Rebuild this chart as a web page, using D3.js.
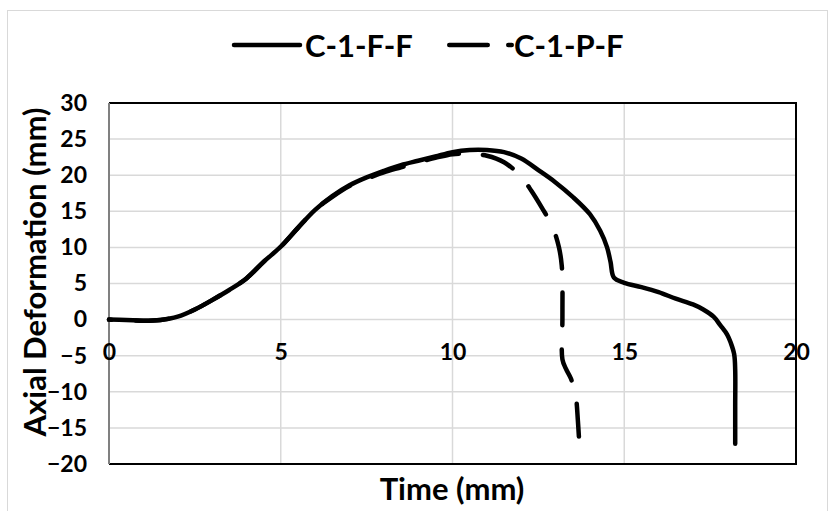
<!DOCTYPE html>
<html lang="en">
<head>
<meta charset="UTF-8">
<title>Axial Deformation vs Time</title>
<script src="https://d3js.org/d3.v7.min.js"></script>
<style>
    body { margin: 0; background: #fff; }
    svg { display: block; }
    text { font-family: Lato, "Open Sans", sans-serif; font-weight: bold; fill: #000; }
</style>
</head>
<body>
<svg width="835" height="511"></svg>
<script>
// series: [time, deformation]
const seriesNames = ["C-1-F-F", "C-1-P-F"];
const fixedFixed = [
    [0, 0], [0.5, -0.05], [1, -0.15], [1.5, -0.05], [2, 0.4], [2.5, 1.4], [3, 2.7], [3.5, 4.1],
    [4, 5.7], [4.5, 8.0], [5, 10.1], [5.5, 12.7], [6, 15.2], [6.5, 17.1], [7, 18.6], [7.5, 19.7],
    [8, 20.6], [8.5, 21.4], [9, 22.0], [9.5, 22.6], [10, 23.2], [10.5, 23.5], [11, 23.5],
    [11.5, 23.2], [12, 22.3], [12.5, 20.7], [13, 19.0], [13.5, 17.0], [14, 14.6], [14.3, 12.3],
    [14.5, 10.0], [14.6, 8.0], [14.7, 5.8], [15, 5.1], [15.5, 4.5], [16, 3.8], [16.5, 2.9],
    [17, 2.1], [17.3, 1.4], [17.6, 0.4], [17.8, -0.8], [18, -2.1], [18.1, -3.2], [18.2, -4.8],
    [18.23, -7], [18.23, -12], [18.23, -17.2]
];
const pinnedFixed = [
    [0, 0], [0.5, -0.05], [1, -0.15], [1.5, -0.05], [2, 0.4], [2.5, 1.4], [3, 2.7], [3.5, 4.1],
    [4, 5.7], [4.5, 8.0], [5, 10.1], [5.5, 12.7], [6, 15.2], [6.5, 17.0], [7, 18.5], [7.5, 19.5],
    [8, 20.4], [8.5, 21.1], [9, 21.8], [9.5, 22.4], [10, 22.9], [10.5, 22.95], [11, 22.7],
    [11.5, 21.8], [12, 19.8], [12.3, 17.8], [12.6, 15.5], [12.9, 13.0], [13.1, 10.0],
    [13.18, 7.5], [13.2, 5], [13.2, 0], [13.2, -5.5], [13.3, -6.8], [13.45, -8.2],
    [13.55, -10], [13.6, -11], [13.65, -14], [13.68, -16.2]
];
const xTicks = [0, 5, 10, 15, 20];
const yTicks = [-20, -15, -10, -5, 0, 5, 10, 15, 20, 25, 30];

const svg = d3.select("svg");

// outer chart frame
svg.append("rect")
    .attr("x", 7.5).attr("y", 10.5)
    .attr("width", 820).attr("height", 510)
    .attr("fill", "none").attr("stroke", "#d9d9d9").attr("stroke-width", 1);

const x = d3.scaleLinear().domain([0, 20]).range([109, 796]);
const y = d3.scaleLinear().domain([-20, 30]).range([464, 103]);

// gridlines
const grid = svg.append("g").attr("stroke", "#d9d9d9").attr("stroke-width", 1.5);
grid.selectAll("line.h")
    .data(yTicks.filter(d => d > -20 && d < 30))
    .join("line")
    .attr("x1", x(0)).attr("x2", x(20))
    .attr("y1", d => y(d)).attr("y2", d => y(d));
grid.selectAll("line.v")
    .data(xTicks.filter(d => d > 0 && d < 20))
    .join("line")
    .attr("y1", y(30)).attr("y2", y(-20))
    .attr("x1", d => x(d)).attr("x2", d => x(d));

// frame of the plot area
svg.append("path")
    .attr("d", `M${x(0)},${y(30)}H${x(20)}V${y(-20)}H${x(0)}`)
    .attr("stroke", "#000").attr("stroke-width", 2).attr("fill", "none");
svg.append("line")
    .attr("x1", x(0)).attr("x2", x(0))
    .attr("y1", y(30)).attr("y2", y(-20))
    .attr("stroke", "#808080").attr("stroke-width", 2);

// y axis labels
const yAxis = d3.axisLeft(y).tickValues(yTicks).tickSize(0).tickPadding(0);
svg.append("g")
    .attr("transform", "translate(87,0)")
    .call(yAxis)
    .call(g => g.select(".domain").remove())
    .selectAll("text")
    .attr("font-family", "Lato, sans-serif")
    .attr("font-size", 23)
    .attr("font-weight", "bold")
    .attr("fill", "#000");

// x axis labels sit below the zero line
const xAxis = d3.axisBottom(x).tickValues(xTicks).tickSize(0).tickPadding(0);
svg.append("g")
    .attr("transform", `translate(0,${y(0) + 40})`)
    .call(xAxis)
    .call(g => g.select(".domain").remove())
    .selectAll("text")
    .attr("dy", "0")
    .attr("font-family", "Lato, sans-serif")
    .attr("font-size", 23)
    .attr("font-weight", "bold")
    .attr("fill", "#000");

// series
const line = d3.line()
    .x(d => x(d[0]))
    .y(d => y(d[1]))
    .curve(d3.curveCatmullRom.alpha(0.5));

svg.append("path")
    .datum(fixedFixed)
    .attr("d", line)
    .attr("fill", "none").attr("stroke", "#000")
    .attr("stroke-width", 4.5).attr("stroke-linecap", "round").attr("stroke-linejoin", "round");

const dashed = svg.append("path")
    .datum(pinnedFixed)
    .attr("d", line)
    .attr("fill", "none").attr("stroke", "#000")
    .attr("stroke-width", 4.5).attr("stroke-linecap", "round").attr("stroke-linejoin", "round")
    .attr("stroke-dasharray", "33,24");
// line up the dash pattern so a dash finishes at the end of the curve
const len = dashed.node().getTotalLength();
dashed.attr("stroke-dashoffset", (((33 - len) % 57) + 57) % 57);

// axis titles
svg.append("text")
    .attr("transform", "translate(46,272) rotate(-90)")
    .attr("text-anchor", "middle")
    .attr("font-size", 31)
    .text("Axial Deformation (mm)");

svg.append("text")
    .attr("x", 452).attr("y", 500)
    .attr("text-anchor", "middle")
    .attr("font-size", 31)
    .text("Time (mm)");

// legend
const legend = svg.append("g");
legend.append("line")
    .attr("x1", 234).attr("x2", 300).attr("y1", 45).attr("y2", 45)
    .attr("stroke", "#000").attr("stroke-width", 4.5).attr("stroke-linecap", "round");
legend.append("text")
    .attr("x", 305).attr("y", 57)
    .attr("font-size", 31)
    .text(seriesNames[0]);
legend.append("line")
    .attr("x1", 449.25).attr("x2", 511.75).attr("y1", 45).attr("y2", 45)
    .attr("stroke", "#000").attr("stroke-width", 4.5).attr("stroke-linecap", "round")
    .attr("stroke-dasharray", "38.5,20.5");
legend.append("text")
    .attr("x", 514).attr("y", 57)
    .attr("font-size", 31)
    .text(seriesNames[1]);
</script>
</body>
</html>
